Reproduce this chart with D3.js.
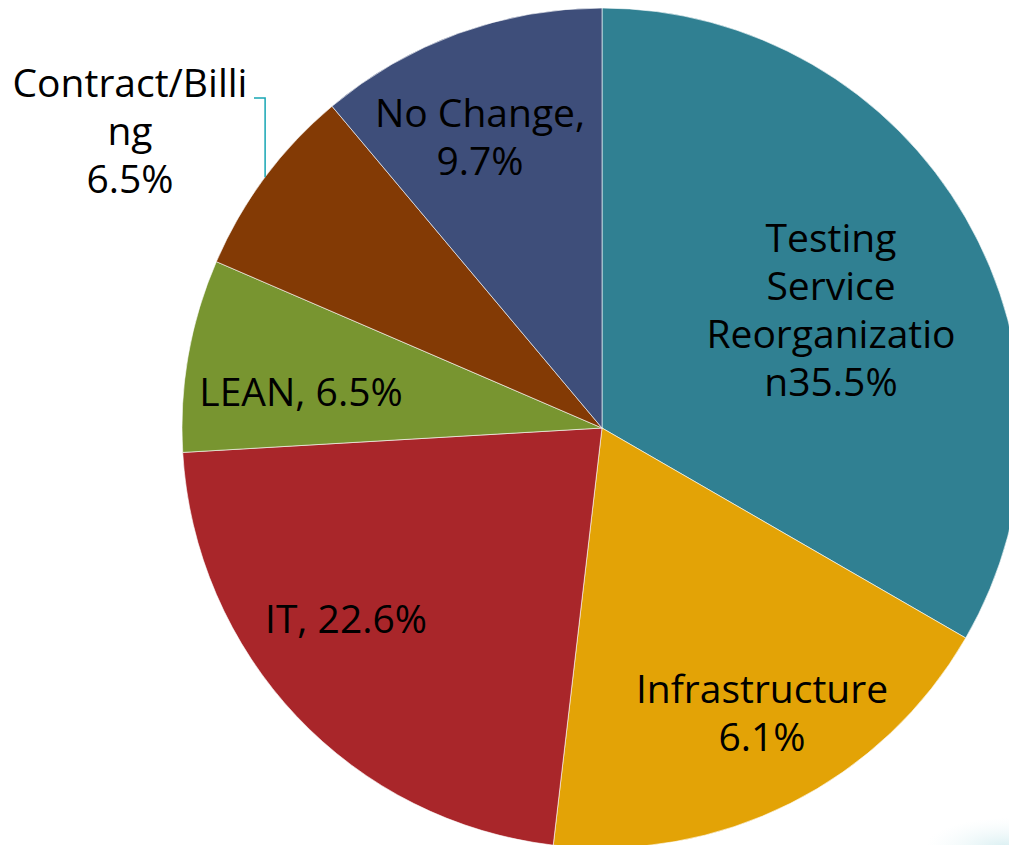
<!DOCTYPE html>
<html>
<head>
<meta charset="utf-8">
<script src="https://cdn.jsdelivr.net/npm/d3@7"></script>
<style>
  body { margin: 0; background: #fff; }
  .lbl { font-family: "Open Sans", sans-serif; font-size: 39px; fill: #000; }
</style>
</head>
<body>
<svg id="chart" width="1009" height="845"></svg>
<script>
// slice sizes (counts)
const categories = ["Testing Service Reorganization", "Infrastructure", "IT", "LEAN", "Contract/Billing", "No Change"];
const values = [9, 5, 6, 2, 2, 3];
const colors = ["#308092", "#e3a306", "#a9262a", "#789530", "#833a05", "#3e4e7a"];
// label text as printed on the chart
const labelLines = [
    ["Testing", "Service", "Reorganizatio", "n35.5%"],
    ["Infrastructure", "6.1%"],
    ["IT, 22.6%"],
    ["LEAN, 6.5%"],
    ["Contract/Billi", "ng", "6.5%"],
    ["No Change,", "9.7%"]
];

const cx = 602, cy = 428, radius = 420
const labelPos = [[831, 252], [762, 703], [346, 633], [301, 406], [130, 97], [480, 127]]
const lineGap = 48

const svg = d3.select("#chart")

// faint decoration bottom right
const defs = svg.append("defs")
const grad = defs.append("radialGradient").attr("id", "glow")
grad.append("stop").attr("offset", "0%").attr("stop-color", "#8fd0d8").attr("stop-opacity", 0.35)
grad.append("stop").attr("offset", "100%").attr("stop-color", "#d5eef1").attr("stop-opacity", 0)
svg.append("ellipse")
    .attr("cx", 1005).attr("cy", 848)
    .attr("rx", 80).attr("ry", 30)
    .attr("fill", "url(#glow)")

const pie = d3.pie().sort(null).value(d => d)
const arcs = pie(values)
const arc = d3.arc().innerRadius(0).outerRadius(radius)

const g = svg.append("g").attr("transform", `translate(${cx},${cy})`)

g.selectAll(".slice")
    .data(arcs)
    .join("path")
    .attr("class", "slice")
    .attr("d", arc)
    .attr("fill", (d, i) => colors[i])
    .attr("stroke", "#ffffff")
    .attr("stroke-opacity", 0.6)
    .attr("stroke-width", 1)

// leader line for the Contract/Billing label
const c = arcs[4]
const mid = (c.startAngle + c.endAngle) / 2
const ex = cx + radius * Math.sin(mid), ey = cy - radius * Math.cos(mid)
svg.append("polyline")
    .attr("points", `${254},${labelPos[4][1] + 1} ${ex},${labelPos[4][1] + 1} ${ex},${ey}`)
    .attr("fill", "none")
    .attr("stroke", "#17a6b4")
    .attr("stroke-width", 1.5)

// labels
labelLines.forEach((lines, i) => {
    const t = svg.append("text")
        .attr("class", "lbl")
        .attr("text-anchor", "middle")
    lines.forEach((s, j) => {
        t.append("tspan")
            .attr("x", labelPos[i][0])
            .attr("y", labelPos[i][1] + j * lineGap)
            .text(s)
    })
})
</script>
</body>
</html>
